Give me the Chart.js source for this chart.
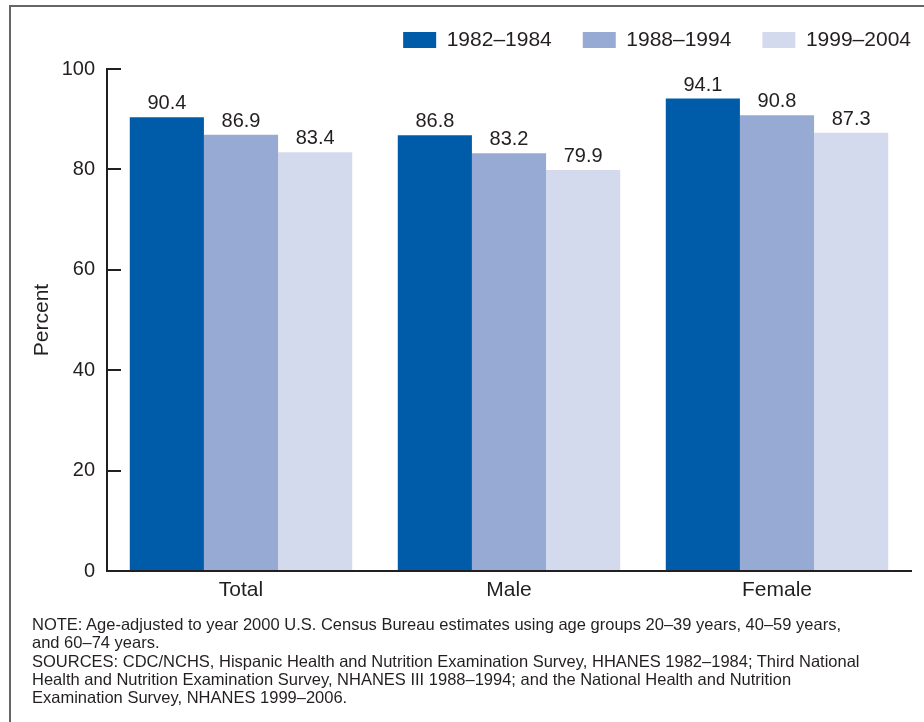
<!DOCTYPE html>
<html>
<head>
<meta charset="utf-8">
<script src="https://cdn.jsdelivr.net/npm/chart.js@4.4.1/dist/chart.umd.min.js"></script>
<style>
  body { margin: 0; background: #fff; }
  #wrap { position: relative; width: 924px; height: 722px; overflow: hidden; }
  #frame { position: absolute; left: 9px; top: 5px; width: 1000px; height: 1000px; border-left: 2px solid #666; border-top: 2px solid #666; }
  #chart { position: absolute; left: 0; top: 0; }
  #notes { position: absolute; left: 32px; top: 615px; font: 16.5px "Liberation Sans", Arial, sans-serif; line-height: 18.25px; color: #231f20; white-space: nowrap; }
</style>
</head>
<body>
<div id="wrap">
  <div id="frame"></div>
  <canvas id="chart" width="924" height="722"></canvas>
  <div id="notes">
    NOTE: Age-adjusted to year 2000 U.S. Census Bureau estimates using age groups 20–39 years, 40–59 years,<br>
    and 60–74 years.<br>
    SOURCES: CDC/NCHS, Hispanic Health and Nutrition Examination Survey, HHANES 1982–1984; Third National<br>
    Health and Nutrition Examination Survey, NHANES III 1988–1994; and the National Health and Nutrition<br>
    Examination Survey, NHANES 1999–2006.
  </div>
</div>
<script>
const categories = ["Total", "Male", "Female"];
const periods = ["1982–1984", "1988–1994", "1999–2004"];
const values1982 = [90.4, 86.8, 94.1];
const values1988 = [86.9, 83.2, 90.8];
const values1999 = [83.4, 79.9, 87.3];
const yTicks = [0, 20, 40, 60, 80, 100];

const textColor = "#231f20";
const font = "'Liberation Sans', Arial, sans-serif";
const colors = ["#005ca9", "#97aad4", "#d4daee"];
const series = [values1982, values1988, values1999];

// numbers above each bar
const valueLabels = {
    id: "valueLabels",
    afterDatasetsDraw(chart) {
        const ctx = chart.ctx;
        ctx.save();
        ctx.font = "20px " + font;
        ctx.fillStyle = textColor;
        ctx.textAlign = "center";
        ctx.textBaseline = "alphabetic";
        chart.data.datasets.forEach((ds, i) => {
            chart.getDatasetMeta(i).data.forEach((bar, j) => {
                ctx.fillText(ds.data[j].toFixed(1), bar.x, bar.y - 8);
            });
        });
        ctx.restore();
    }
};

// leave a bit more room under the legend
const legendGap = {
    id: "legendGap",
    afterInit(chart) {
        const legend = chart.legend;
        const fit = legend.fit;
        legend.fit = function () {
            fit.call(this);
            this.height += 8.5;
        };
    }
};

new Chart(document.getElementById("chart"), {
    type: "bar",
    data: {
        labels: categories,
        datasets: periods.map((p, i) => ({
            label: p,
            data: series[i],
            backgroundColor: colors[i],
            borderWidth: 0,
            categoryPercentage: 0.83,
            barPercentage: 1
        }))
    },
    options: {
        responsive: false,
        animation: false,
        layout: { padding: { top: -1.5, right: -18, left: 0, bottom: 0 } },
        plugins: {
            legend: {
                position: "top",
                align: "end",
                labels: {
                    boxWidth: 33,
                    boxHeight: 16,
                    padding: 31,
                    color: textColor,
                    font: { size: 21, family: font }
                }
            },
            tooltip: { enabled: false }
        },
        scales: {
            x: {
                offset: true,
                grid: { display: false, drawTicks: false },
                border: { color: textColor, width: 2 },
                ticks: {
                    padding: 7,
                    color: textColor,
                    font: { size: 21, family: font }
                },
                afterFit: s => { s.height = 151; }
            },
            y: {
                min: 0,
                max: 100,
                afterBuildTicks: s => { s.ticks = yTicks.map(v => ({ value: v })); },
                grid: {
                    drawOnChartArea: false,
                    drawTicks: true,
                    tickLength: -14,
                    lineWidth: 2,
                    color: textColor
                },
                border: { color: textColor, width: 2 },
                ticks: {
                    padding: 26,
                    color: textColor,
                    font: { size: 20, family: font }
                },
                title: {
                    display: true,
                    text: "Percent",
                    color: textColor,
                    padding: { top: 29.4, bottom: 0 },
                    font: { size: 21, family: font }
                },
                afterFit: s => { s.width = 107; }
            },
            y2: {
                type: "linear",
                position: "right",
                grid: { display: false },
                border: { display: false },
                ticks: { display: false },
                afterFit: s => { s.width = 31; }
            }
        }
    },
    plugins: [valueLabels, legendGap]
});
</script>
</body>
</html>
